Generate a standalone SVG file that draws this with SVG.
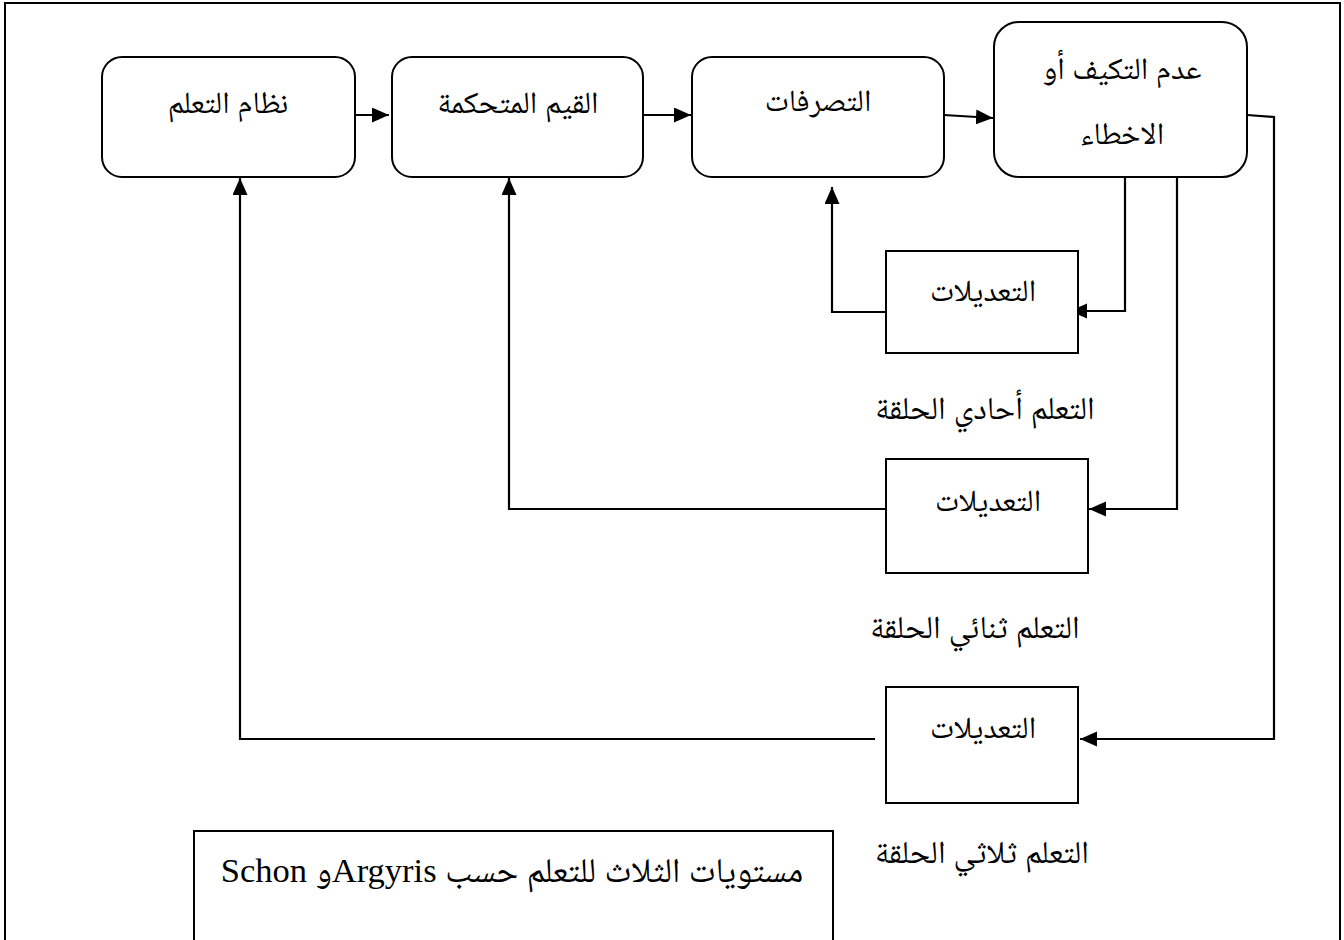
<svg xmlns="http://www.w3.org/2000/svg" width="1344" height="940" viewBox="0 0 1344 940">
<style>
.node{fill:#fff;stroke:#000;stroke-width:2}
.conn{fill:none;stroke:#000;stroke-width:2.2}
.t{font-family:"Liberation Serif","Noto Naskh Arabic","DejaVu Sans",serif;font-size:31px;fill:#000;text-anchor:middle;direction:rtl}
.lab{font-size:32px}
.cap{font-size:34.5px}
</style>
<defs>
<marker id="ah" markerUnits="userSpaceOnUse" markerWidth="19" markerHeight="16" refX="17" refY="7.5" orient="auto">
<path d="M0,0 L17,7.5 L0,15 z" fill="#000"/>
</marker>
</defs>
<rect x="0" y="0" width="1344" height="940" fill="#fff"/>
<rect x="5" y="3" width="1335" height="950" fill="none" stroke="#000" stroke-width="2"/>
<g id="connectors">
<path class="conn" d="M355,115 H389" marker-end="url(#ah)"/>
<path class="conn" d="M643,115 H691" marker-end="url(#ah)"/>
<path class="conn" d="M944,115 L993,118" marker-end="url(#ah)"/>
<path class="conn" d="M1125,177 V311 H1070" marker-end="url(#ah)"/>
<path class="conn" d="M1177,177 V509 H1089" marker-end="url(#ah)"/>
<path class="conn" d="M1247,115 L1274,117 V739 H1080" marker-end="url(#ah)"/>
<path class="conn" d="M886,312 H832 V187" marker-end="url(#ah)"/>
<path class="conn" d="M886,509 H509 V178" marker-end="url(#ah)"/>
<path class="conn" d="M875,739 H240 V178" marker-end="url(#ah)"/>
</g>
<g id="n1"><rect class="node" x="102" y="57" width="253" height="120" rx="20"/><text class="t" x="228" y="113">نظام التعلم</text></g>
<g id="n2"><rect class="node" x="392" y="57" width="251" height="120" rx="20"/><text class="t" x="518" y="113">القيم المتحكمة</text></g>
<g id="n3"><rect class="node" x="692" y="57" width="252" height="120" rx="20"/><text class="t" x="818" y="111">التصرفات</text></g>
<g id="n4"><rect class="node" x="994" y="22" width="253" height="155" rx="25"/><text class="t" x="1122" y="79">عدم التكيف أو</text><text class="t" x="1122" y="144">الاخطاء</text></g>
<g id="m1"><rect class="node" x="886" y="251" width="192" height="102"/><text class="t" x="983" y="301">التعديلات</text></g>
<g id="m2"><rect class="node" x="886" y="459" width="202" height="114"/><text class="t" x="988" y="511">التعديلات</text></g>
<g id="m3"><rect class="node" x="886" y="687" width="192" height="116"/><text class="t" x="983" y="738">التعديلات</text></g>
<g id="l1"><text class="t lab" x="985" y="419">التعلم أحادي الحلقة</text></g>
<g id="l2"><text class="t lab" x="975" y="638">التعلم ثنائي الحلقة</text></g>
<g id="l3"><text class="t lab" x="982" y="863">التعلم ثلاثي الحلقة</text></g>
<g id="caption"><rect class="node" x="194" y="831" width="639" height="120"/><text class="t cap" x="512" y="882">مستويات الثلاث للتعلم حسب Argyrisو Schon</text></g>
</svg>
